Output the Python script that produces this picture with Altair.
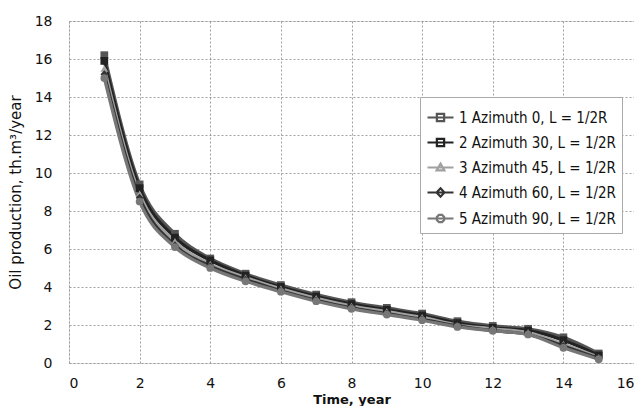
import altair as alt
import pandas as pd

years = list(range(1, 16))
series_names = [
    "1 Azimuth 0, L = 1/2R",
    "2 Azimuth 30, L = 1/2R",
    "3 Azimuth 45, L = 1/2R",
    "4 Azimuth 60, L = 1/2R",
    "5 Azimuth 90, L = 1/2R",
]
s1 = [16.2, 9.4, 6.8, 5.5, 4.7, 4.1, 3.6, 3.2, 2.9, 2.6, 2.2, 1.95, 1.8, 1.35, 0.5]
s2 = [15.9, 9.2, 6.6, 5.4, 4.6, 4.0, 3.5, 3.1, 2.8, 2.5, 2.1, 1.85, 1.7, 1.2, 0.4]
s3 = [15.5, 8.9, 6.4, 5.2, 4.5, 3.9, 3.4, 3.0, 2.7, 2.4, 2.0, 1.8, 1.6, 1.0, 0.3]
s4 = [15.2, 8.7, 6.2, 5.1, 4.4, 3.8, 3.3, 2.9, 2.6, 2.3, 1.95, 1.7, 1.5, 0.9, 0.25]
s5 = [15.0, 8.5, 6.1, 5.0, 4.3, 3.75, 3.25, 2.85, 2.55, 2.25, 1.9, 1.7, 1.5, 0.8, 0.2]
colors = ["#555555", "#222222", "#a0a0a0", "#333333", "#777777"]
shapes = ["square", "square", "triangle-up", "diamond", "circle"]
# legend glyphs: a line with the series marker in its middle
legend_glyphs = [
    "M-1,0H1M-0.28,-0.28H0.28V0.28H-0.28Z",
    "M-1,0H1M-0.28,-0.28H0.28V0.28H-0.28Z",
    "M-1,0H1M0,-0.3L0.3,0.22H-0.3Z",
    "M-1,0H1M0,-0.32L0.3,0L0,0.32L-0.3,0Z",
    "M-1,0H1M-0.12,-0.28H0.12L0.28,-0.12V0.12L0.12,0.28H-0.12L-0.28,0.12V-0.12Z",
]

rows = []
for name, vals in zip(series_names, [s1, s2, s3, s4, s5]):
    for t, v in zip(years, vals):
        rows.append({"Time": t, "Oil": v, "Series": name, "Legend": name})
df = pd.DataFrame(rows)

font = "DejaVu Sans"
common = dict(labelFont=font, labelFontSize=14, labelColor="#111", titleFont=font,
              titleColor="#111", grid=True, gridColor="#888", gridDash=[2, 2],
              gridWidth=0.8, domain=False, ticks=False)
x = alt.X("Time:Q", scale=alt.Scale(domain=[0, 16], nice=False),
          axis=alt.Axis(values=list(range(0, 17, 2)), title="Time, year",
                        titleFontWeight="bold", titleFontSize=13, titlePadding=3,
                        labelPadding=13, **common))
y = alt.Y("Oil:Q", scale=alt.Scale(domain=[0, 18], nice=False),
          axis=alt.Axis(values=list(range(0, 19, 2)), title="Oil production, th.m³/year",
                        titleFontWeight="normal", titleFontSize=15, titlePadding=11,
                        labelPadding=17, **common))

base = alt.Chart(df).encode(x=x, y=y)
color_nolegend = alt.Color("Series:N", scale=alt.Scale(domain=series_names, range=colors),
                           legend=None)
lines = base.mark_line(strokeWidth=3.2, interpolate="monotone").encode(color=color_nolegend)
points = base.mark_point(filled=True, size=60, opacity=1).encode(
    color=color_nolegend,
    shape=alt.Shape("Series:N", scale=alt.Scale(domain=series_names, range=shapes),
                    legend=None))

legend = alt.Legend(title=None, orient="none", legendX=351, legendY=76,
                    labelFont="DejaVu Sans Condensed", labelFontSize=15,
                    labelColor="#111", symbolSize=676, symbolStrokeWidth=2.2,
                    symbolOpacity=1, rowPadding=2, padding=6, strokeColor="#aaa",
                    fillColor="white", labelLimit=300, labelOffset=4)
legend_layer = base.mark_point(filled=False, strokeWidth=2).encode(
    color=alt.Color("Legend:N", scale=alt.Scale(domain=series_names, range=colors),
                    legend=legend),
    shape=alt.Shape("Legend:N", scale=alt.Scale(domain=series_names, range=legend_glyphs),
                    legend=legend),
    opacity=alt.value(0),
)

chart = alt.layer(lines, points, legend_layer).resolve_scale(
    color="independent", shape="independent"
).properties(
    width=626, height=398,
    autosize=alt.AutoSizeParams(type="fit", contains="padding"),
    padding={"left": 0, "top": 6, "right": 0, "bottom": 0}
).configure_view(
    stroke="transparent", strokeWidth=0
).configure(background="white")

chart.save("out.html", embed_options={"renderer": "svg", "actions": False})
